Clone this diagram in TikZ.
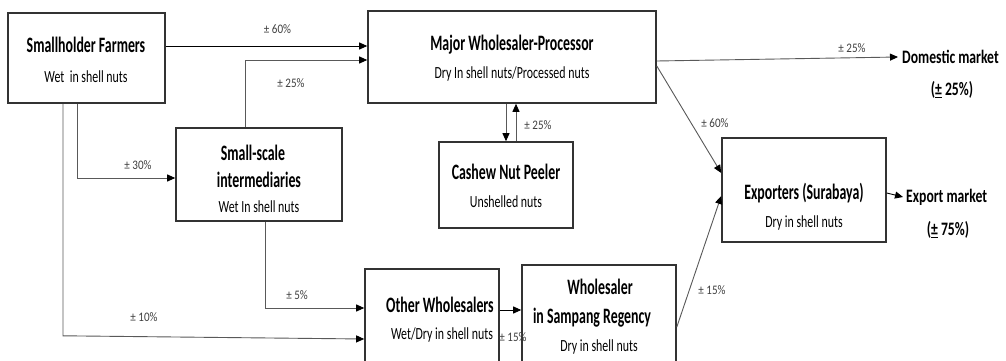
\documentclass[tikz,border=0pt]{standalone}
\usepackage{fontspec}
\setmainfont{Carlito}
\newfontfamily\titlef{Carlito}[FakeStretch=0.63]
\newfontfamily\subf{Carlito}[FakeStretch=0.7]
\newfontfamily\lblf{Carlito}[FakeStretch=0.85]
\newfontfamily\mktf{Carlito}[FakeStretch=0.72]
\usetikzlibrary{arrows.meta}
\begin{document}
\begin{tikzpicture}[x=1pt,y=-1pt,
 box/.style={draw=black!80,line width=1.6pt,inner sep=0pt},
 ttl/.style={font=\titlef\bfseries\fontsize{22}{24}\selectfont,inner sep=0pt},
 sub/.style={font=\subf\fontsize{17}{19}\selectfont,inner sep=0pt},
 lbl/.style={font=\lblf\fontsize{13}{15}\selectfont,text=black!75,inner sep=0pt},
 mkt/.style={font=\mktf\bfseries\fontsize{19}{21}\selectfont,inner sep=0pt},
 arr/.style={draw=black!65,line width=0.9pt,-{Triangle[length=8pt,width=7pt,color=black]}},
 darr/.style={arr,draw=black}
]
\useasboundingbox[fill=white] (0,0) rectangle (1006,361);

% boxes
\node[box,minimum width=157pt,minimum height=90pt] (farm) at (86.5,58) {};
\node[ttl] (farmT) at (86,45) {Smallholder Farmers};
\node[sub] (farmS) at (86,77) {Wet\ \ in shell nuts};

\node[box,minimum width=288pt,minimum height=92pt] (major) at (512,57) {};
\node[ttl] (majorT) at (512,44.5) {Major Wholesaler-Processor};
\node[sub] (majorS) at (512,74) {Dry In shell nuts/Processed nuts};

\node[box,minimum width=166pt,minimum height=93pt] (inter) at (259,174.5) {};
\node[ttl] (interT1) at (253,153) {Small-scale};
\node[ttl] (interT2) at (259,180) {intermediaries};
\node[sub] (interS) at (259,207) {Wet In shell nuts};

\node[box,minimum width=134pt,minimum height=86pt] (peel) at (506,185) {};
\node[ttl] (peelT) at (506,172) {Cashew Nut Peeler};
\node[sub] (peelS) at (506,202) {Unshelled nuts};

\node[box,minimum width=164pt,minimum height=104pt] (exp) at (804,190) {};
\node[ttl] (expT) at (804,193) {Exporters (Surabaya)};
\node[sub] (expS) at (804,223) {Dry in shell nuts};

\node[box,minimum width=134pt,minimum height=94pt] (other) at (432,316) {};
\node[ttl] (otherT) at (440,305) {Other Wholesalers};
\node[sub] (otherS) at (442,335) {Wet/Dry in shell nuts};

\node[box,minimum width=154pt,minimum height=98pt] (whs) at (599,314) {};
\node[ttl] (whsT1) at (600,287) {Wholesaler};
\node[ttl] (whsT2) at (592,318) {in Sampang Regency};
\node[sub] (whsS) at (599,347) {Dry in shell nuts};

% markets
\node[mkt,anchor=west] (dom) at (902,57) {Domestic market};
\node[mkt] (domP) at (952,90) {(\underline{±} 25\%)};
\node[mkt,anchor=west] (expm) at (906,197) {Export market};
\node[mkt] (expP) at (948,230) {(\underline{±} 75\%)};

% connectors
\draw[darr] ([yshift=12pt]farm.east) -- ([yshift=12pt]farm.east -| major.west);
\draw[arr] ([xshift=-14pt]inter.north) |- ([yshift=-3pt]major.west);
\draw[arr] ([xshift=-9.5pt]farm.south) |- ([yshift=-3.5pt]inter.west);
\draw[arr] ([xshift=-23.5pt]farm.south) -- ++(0,232) -- ([yshift=-23pt]other.west);
\draw[arr] ([xshift=6pt]inter.south) |- ([yshift=8pt]other.west);
\draw[darr] ([yshift=6pt]other.east) -- ([yshift=6pt]other.east -| whs.west);
\draw[arr] ([xshift=-6pt]major.south) -- ([xshift=-6pt]major.south |- peel.north);
\draw[arr] ([xshift=10pt]peel.north) -- ([xshift=10pt]peel.north |- major.south);
\draw[arr] ([yshift=-4pt]major.east) -- ([xshift=-4pt]dom.west);
\draw[arr] ([yshift=-9pt]major.east) -- ([yshift=17pt]exp.west);
\draw[arr] ([yshift=-13pt]whs.east) -- ([yshift=-6pt]exp.west);
\draw[darr] ([yshift=-3pt]exp.east) -- ([xshift=-3pt]expm.west);

% labels
\node[lbl] (l1) at (277.5,29) {± 60\%};
\node[lbl] (l2) at (291,83) {± 25\%};
\node[lbl] (l3) at (138,165) {± 30\%};
\node[lbl] (l4) at (144,317) {± 10\%};
\node[lbl] (l5) at (297,295) {± 5\%};
\node[lbl] (l6) at (513,337) {± 15\%};
\node[lbl] (l7) at (538,125) {± 25\%};
\node[lbl] (l8) at (852,48) {± 25\%};
\node[lbl] (l9) at (715,123) {± 60\%};
\node[lbl] (l10) at (712,290) {± 15\%};
\end{tikzpicture}
\end{document}
